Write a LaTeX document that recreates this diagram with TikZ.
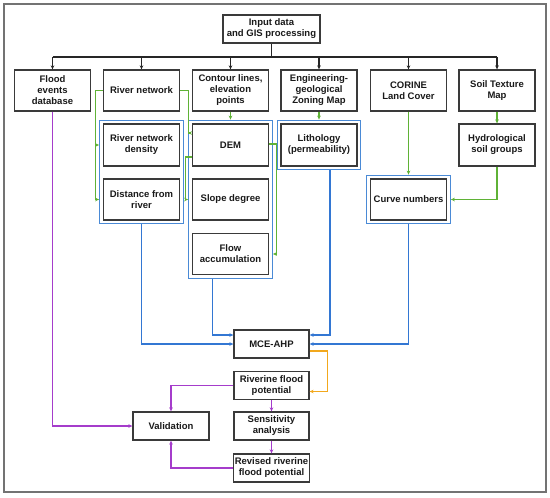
\documentclass[tikz,border=0pt]{standalone}
\usepackage{fontspec}
\setmainfont{Liberation Sans}
\usetikzlibrary{positioning, arrows.meta, fit}
\definecolor{flgreen}{HTML}{5FB236}
\definecolor{flblue}{HTML}{3377D3}
\definecolor{flframe}{HTML}{4A8AD6}
\definecolor{florange}{HTML}{F2A81D}
\definecolor{flpurple}{HTML}{A53CCB}
\definecolor{flgray}{HTML}{3A3A3A}

\begin{document}
\begin{tikzpicture}[
      x=1pt, y=-1pt,
      every node/.style={font=\fontsize{9.5}{11}\selectfont\bfseries, text=black!90},
      box/.style={draw=flgray, line width=1.3pt, minimum width=76pt, minimum height=41pt, align=center, inner sep=1pt},
      lowbox/.style={box, minimum width=75pt, minimum height=28pt},
      grp/.style={draw=flframe, line width=1.1pt, inner sep=3.2pt},
      tip/.style={-{Stealth[length=4pt,width=3.6pt]}},
      blk/.style={tip, line width=1.2pt, draw=black!85},
      grn/.style={tip, line width=1.2pt, draw=flgreen},
      blu/.style={tip, line width=1.2pt, draw=flblue},
      org/.style={tip, line width=1.2pt, draw=florange},
      prp/.style={tip, line width=1.2pt, draw=flpurple},
    ]
    \useasboundingbox (0,0) rectangle (550,498);
    \draw[black!55, line width=1.3pt] (4,4) rectangle (546,492);

    % Input
    \node[box, minimum width=97pt, minimum height=28pt] (input) at (271.5,29) {Input data\\and GIS processing};
    \coordinate (bus) at (0,57);

    % Row 1
    \node[box] (flood) at (52.5,90.5) {Flood\\events\\database};
    \node[box] (rivnet) at (141.5,90.5) {River network};
    \node[box] (contour) at (230.5,90.5) {Contour lines,\\elevation\\points};
    \node[box] (engeo) at (319,90.5) {Engineering-\\geological\\Zoning Map};
    \node[box] (corine) at (408.5,90.5) {CORINE\\Land Cover};
    \node[box] (soil) at (497,90.5) {Soil Texture\\Map};

    % Row 2
    \node[box, minimum height=42pt] (dens) at (141.5,145) {River network\\density};
    \node[box, minimum height=42pt] (dem) at (230.5,145) {DEM};
    \node[box, minimum height=42pt] (lith) at (319,145) {Lithology\\(permeability)};
    \node[box, minimum height=42pt] (hyd) at (497,145) {Hydrological\\soil groups};

    % Row 3
    \node[box] (dist) at (141.5,199.5) {Distance from\\river};
    \node[box] (slope) at (230.5,199.5) {Slope degree};
    \node[box] (cn) at (408.5,199.5) {Curve numbers};
    \node[box] (flow) at (230.5,254) {Flow\\accumulation};

    % Groups
    \node[grp, fit=(dens)(dist)] (gRiv) {};
    \node[grp, fit=(dem)(flow)] (gDem) {};
    \node[grp, fit=(lith)] (gLith) {};
    \node[grp, fit=(cn)] (gCN) {};

    % Analysis
    \node[lowbox] (mce) at (271.5,344) {MCE-AHP};
    \node[lowbox] (riv) at (271.5,385.5) {Riverine flood\\potential};
    \node[lowbox] (sens) at (271.5,426) {Sensitivity\\analysis};
    \node[lowbox] (rev) at (271.5,468) {Revised riverine\\flood potential};
    \node[lowbox, minimum width=76pt] (val) at (171,426) {Validation};

    % Input data branches
    \draw[line width=1.2pt, black!85] (input) -- (input |- bus);
    \draw[line width=1.2pt, black!85] (flood |- bus) -- (soil |- bus);
    \foreach \n in {flood, rivnet, contour, engeo, corine, soil}
      \draw[blk] (\n |- bus) -- (\n);

    % Derived layers
    \draw[grn] (rivnet.west) -- ++(-7,0) |- (gRiv.west |- dens);
    \draw[grn] (rivnet.west) -- ++(-7,0) |- (gRiv.west |- dist);
    \draw[grn] (rivnet.east) -- ++(8,0) |- ([yshift=12pt]gDem.west |- dem);
    \draw[grn] (contour) -- (gDem);
    \draw[grn] ([yshift=-12pt]dem.west) -- ++(-6,0) |- (gDem.west |- slope);
    \draw[grn] ([yshift=1pt]dem.east) -- ++(7,0) |- (gDem.east |- flow);
    \draw[grn] (engeo) -- (gLith);
    \draw[grn] (corine) -- (gCN);
    \draw[grn] (soil) -- (hyd);
    \draw[grn] (hyd) |- (gCN.east |- cn);

    % Factors to MCE-AHP
    \draw[blu] (gRiv.south) |- (mce.west);
    \draw[blu] ([xshift=-18pt]gDem.south) |- ([yshift=9pt]mce.west);
    \draw[blu] ([xshift=11pt]gLith.south) |- ([yshift=9pt]mce.east);
    \draw[blu] (gCN.south) |- (mce.east);
    \draw[org] ([yshift=-7pt]mce.east) -- ++(18,0) |- ([yshift=-6pt]riv.east);

    % Validation
    \draw[prp] (flood) |- (val.west);
    \draw[prp] (riv.west) -| (val.north);
    \draw[prp] (riv) -- (sens);
    \draw[prp] (sens) -- (rev);
    \draw[prp] (rev.west) -| (val.south);
  \end{tikzpicture}
\end{document}
